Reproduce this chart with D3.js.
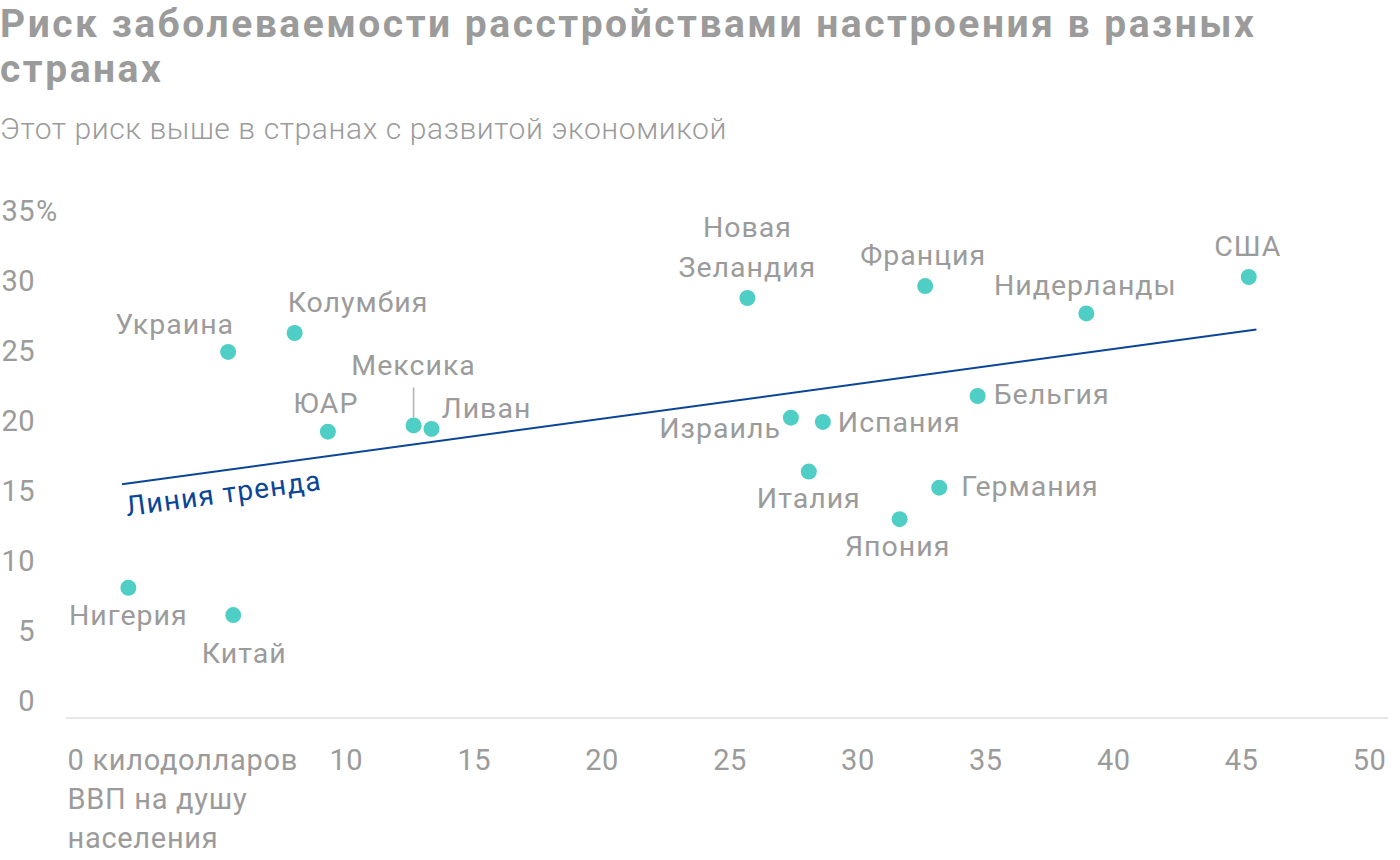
<!DOCTYPE html>
<html>
<head>
<meta charset="utf-8">
<script src="https://cdn.jsdelivr.net/npm/d3@7"></script>
<style>
  body { margin: 0; background: #fff; }
  svg text { font-family: Roboto, "Noto Sans", sans-serif; }
</style>
</head>
<body>
<svg id="chart" width="1400" height="860"></svg>
<script>
// data
var countries = ["Нигерия", "Китай", "Украина", "Колумбия", "ЮАР", "Мексика", "Ливан",
  "Новая Зеландия", "Франция", "Нидерланды", "США", "Бельгия", "Израиль", "Испания",
  "Италия", "Германия", "Япония"];
var gdp = [1.5, 5.6, 5.4, 8.0, 9.3, 12.65, 13.35, 25.7, 32.65, 38.95, 45.3, 34.7, 27.4, 28.65, 28.1, 33.2, 31.65];
var risk = [9.3, 7.35, 26.15, 27.5, 20.45, 20.9, 20.65, 30.0, 30.85, 28.9, 31.5, 23.0, 21.45, 21.15, 17.6, 16.45, 14.2];
var trendX = [1.25, 45.6];
var trendY = [16.7, 27.75];
var xTicks = [0, 10, 15, 20, 25, 30, 35, 40, 45, 50];
var yTicks = [0, 5, 10, 15, 20, 25, 30, 35];

// label placement (layout only)
var labelPos = {
  "Нигерия": [0, 37, "middle"],
  "Китай": [11, 48, "middle"],
  "Украина": [6, -18, "end"],
  "Колумбия": [-7, -21, "start"],
  "ЮАР": [-2, -19, "middle"],
  "Мексика": [0, -50, "middle"],
  "Ливан": [10, -11, "start"],
  "Новая Зеландия": [0, -21, "middle"],
  "Франция": [-2, -21, "middle"],
  "Нидерланды": [-1, -18, "middle"],
  "США": [-1, -21, "middle"],
  "Бельгия": [16, 8, "start"],
  "Израиль": [-10, 20, "end"],
  "Испания": [15, 10, "start"],
  "Италия": [0, 36, "middle"],
  "Германия": [22, 8, "start"],
  "Япония": [-2, 37, "middle"]
};

var grey = "#9b9b9b";
var teal = "#4fcec5";
var blue = "#0a4597";

var svg = d3.select("#chart");

var x = d3.scaleLinear().domain([0, 50]).range([90, 1369]);
var y = d3.scaleLinear().domain([0, 35]).range([718, 228]);

// title
svg.append("text").attr("x", 0).attr("y", 37)
  .attr("font-size", 39).attr("font-weight", 700).attr("fill", grey)
  .attr("letter-spacing", 2.5)
  .text("Риск заболеваемости расстройствами настроения в разных");
svg.append("text").attr("x", 0).attr("y", 82)
  .attr("font-size", 39).attr("font-weight", 700).attr("fill", grey)
  .attr("letter-spacing", 2.5)
  .text("странах");
svg.append("text").attr("x", 0).attr("y", 139)
  .attr("font-size", 30).attr("font-weight", 300).attr("fill", grey)
  .attr("letter-spacing", 0.6)
  .text("Этот риск выше в странах с развитой экономикой");

// baseline
svg.append("line")
  .attr("x1", x(-0.94)).attr("x2", x(50.74))
  .attr("y1", y(0)).attr("y2", y(0))
  .attr("stroke", "#e6e6e6").attr("stroke-width", 2);

// y axis
var yAxis = svg.append("g").attr("transform", "translate(35,0)")
  .call(d3.axisLeft(y).tickValues(yTicks).tickSize(0).tickPadding(0));
yAxis.select(".domain").remove();
yAxis.selectAll("text")
  .attr("dy", null).attr("y", -8)
  .attr("font-size", 29).attr("fill", grey).attr("letter-spacing", 0.5)
  .style("font-family", "Roboto, sans-serif");
yAxis.selectAll(".tick").filter(function (d) { return d === 35; })
  .append("text").attr("x", 1).attr("y", -8)
  .attr("text-anchor", "start").attr("font-size", 29).attr("fill", grey)
  .style("font-family", "Roboto, sans-serif")
  .text("%");

// x axis
var xAxis = svg.append("g").attr("transform", "translate(0," + y(0) + ")")
  .call(d3.axisBottom(x).tickValues(xTicks).tickSize(0).tickPadding(0));
xAxis.select(".domain").remove();
xAxis.selectAll("text")
  .attr("dy", null).attr("y", 52)
  .attr("font-size", 29).attr("fill", grey).attr("letter-spacing", 0.5)
  .style("font-family", "Roboto, sans-serif");
var first = xAxis.selectAll(".tick").filter(function (d) { return d === 0; }).select("text");
first.text(null).attr("text-anchor", "start").attr("letter-spacing", 0.7);
["0 килодолларов", "ВВП на душу", "населения"].forEach(function (s, i) {
  first.append("tspan").attr("x", 67 - x(0)).attr("dy", i === 0 ? 0 : 39).text(s);
});

// trend line
var line = d3.line().x(function (d) { return x(d[0]); }).y(function (d) { return y(d[1]); });
svg.append("path")
  .datum(d3.zip(trendX, trendY))
  .attr("d", line)
  .attr("fill", "none").attr("stroke", blue).attr("stroke-width", 2);

var ang = Math.atan2(y(trendY[1]) - y(trendY[0]), x(trendX[1]) - x(trendX[0])) * 180 / Math.PI;
var lx = x(trendX[0]) + 5, ly = y(trendY[0]) + 32;
svg.append("text")
  .attr("transform", "translate(" + lx + "," + ly + ") rotate(" + ang + ")")
  .attr("font-size", 28).attr("fill", blue).attr("letter-spacing", 1.2)
  .text("Линия тренда");

// points
var pts = countries.map(function (c, i) { return { name: c, gx: gdp[i], r: risk[i] }; });

// Mexico leader line
var mex = pts.filter(function (d) { return d.name === "Мексика"; })[0];
svg.append("line")
  .attr("x1", x(mex.gx)).attr("x2", x(mex.gx))
  .attr("y1", y(mex.r) - 38).attr("y2", y(mex.r) - 8)
  .attr("stroke", "#b0b0b0").attr("stroke-width", 1.5);

svg.append("g").selectAll("circle")
  .data(pts).enter().append("circle")
  .attr("cx", function (d) { return x(d.gx); })
  .attr("cy", function (d) { return y(d.r); })
  .attr("r", 8)
  .attr("fill", teal);

var labels = svg.append("g").selectAll("text")
  .data(pts).enter().append("text")
  .attr("x", function (d) { return x(d.gx) + labelPos[d.name][0]; })
  .attr("y", function (d) { return y(d.r) + labelPos[d.name][1]; })
  .attr("text-anchor", function (d) { return labelPos[d.name][2]; })
  .attr("font-size", 28.5).attr("fill", grey).attr("letter-spacing", 1);

labels.each(function (d) {
  var t = d3.select(this);
  if (d.name === "Новая Зеландия") {
    t.append("tspan").attr("x", x(d.gx)).attr("dy", -40).text("Новая");
    t.append("tspan").attr("x", x(d.gx)).attr("dy", 40).text("Зеландия");
  } else {
    t.text(d.name);
  }
});
</script>
</body>
</html>
